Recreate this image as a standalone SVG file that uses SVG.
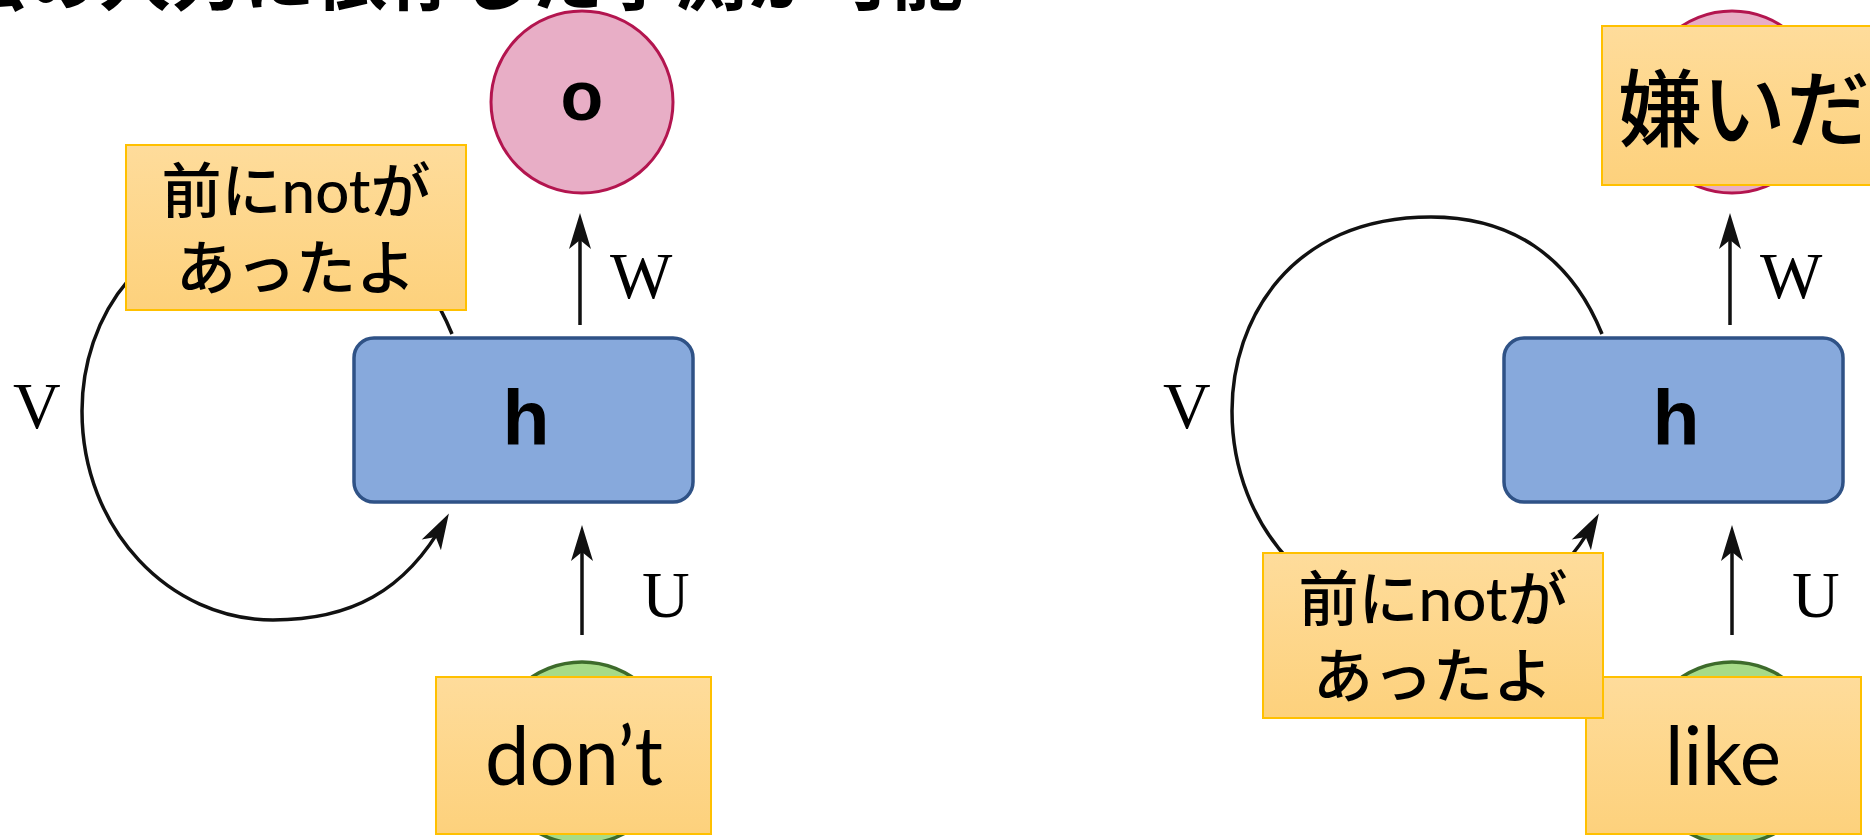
<svg xmlns="http://www.w3.org/2000/svg" width="1870" height="840" viewBox="0 0 1870 840">
  <defs>
    <style>
      .conn { fill: none; stroke: #111; stroke-width: 3.5; }
      .out { fill: #e8aec6; stroke: #b3154f; stroke-width: 3; }
      .hid { fill: #87a9dc; stroke: #2f5286; stroke-width: 3.5; }
      .inp { fill: #a7db88; stroke: #3d6b2b; stroke-width: 3.5; }
      .note { fill: url(#noteFill); stroke: #ffc000; stroke-width: 2; }
      .sym { font-family: "Liberation Sans", Arial, sans-serif; font-weight: bold; fill: #000; text-anchor: middle; }
      .lbl { font-family: "Liberation Serif", "Times New Roman", serif; font-size: 66px; fill: #000; }
      .word { font-family: Lato, "Noto Sans CJK JP", sans-serif; font-size: 82px; fill: #000; text-anchor: middle; }
      .jp { font-family: Lato, "Noto Sans CJK JP", sans-serif; font-size: 60px; font-weight: 500; fill: #000; text-anchor: middle; }
      .big { font-family: "Noto Sans CJK JP", sans-serif; font-size: 84px; font-weight: 500; fill: #000; text-anchor: start; }
      .title { font-family: "Noto Sans CJK JP", sans-serif; font-size: 72px; font-weight: bold; fill: #000; text-anchor: end; }
    </style>
    <linearGradient id="noteFill" x1="0" y1="0" x2="0" y2="1">
      <stop offset="0" stop-color="#fedc9b"/>
      <stop offset="1" stop-color="#fdd17c"/>
    </linearGradient>
    <marker id="head" markerUnits="userSpaceOnUse" viewBox="-40 -15 50 30" markerWidth="50" markerHeight="30" refX="0" refY="0" orient="auto" overflow="visible">
      <path d="M8,0 L-28,-11 L-19,0 L-28,11 Z" fill="#111"/>
    </marker>
  </defs>

  <!-- heading line, mostly above the top edge -->
  <g id="title">
    <text class="title" x="963" y="4">過去の入力に依存した予測が可能</text>
  </g>

  <!-- arrows and recurrent loops of both unrolled cells -->
  <g id="connectors">
    <path class="conn" d="M580 325 L580 221" marker-end="url(#head)"/>
    <path class="conn" d="M582 635 L582 533" marker-end="url(#head)"/>
    <path class="conn" d="M452 334 C420 255 360 217 281 217 C140 217 82 320 82 411 C82 530 170 620 273 620 C350 620 405 592 445 520.5" marker-end="url(#head)"/>
    <path class="conn" d="M1730 325 L1730 221" marker-end="url(#head)"/>
    <path class="conn" d="M1732 635 L1732 533" marker-end="url(#head)"/>
    <path class="conn" d="M1602 334 C1570 255 1510 217 1431 217 C1290 217 1232 320 1232 411 C1232 530 1320 620 1423 620 C1500 620 1555 592 1595 520.5" marker-end="url(#head)"/>
    <text class="lbl" x="610" y="298">W</text>
    <text class="lbl" x="642" y="617">U</text>
    <text class="lbl" x="13" y="428">V</text>
    <text class="lbl" x="1760" y="298">W</text>
    <text class="lbl" x="1792" y="617">U</text>
    <text class="lbl" x="1163" y="428">V</text>
  </g>

  <!-- left cell -->
  <g id="output-left">
    <circle class="out" cx="582" cy="102" r="91"/>
    <text class="sym" x="582" y="120" font-size="70">o</text>
  </g>
  <g id="hidden-left">
    <rect class="hid" x="354" y="338" width="339" height="164" rx="20"/>
    <text class="sym" x="526" y="445" font-size="77">h</text>
  </g>
  <g id="input-left">
    <circle class="inp" cx="582" cy="753" r="91"/>
  </g>
  <g id="note-memory-left">
    <rect class="note" x="126" y="145" width="340" height="165"/>
    <text class="jp" x="296" y="213">前にnotが</text>
    <text class="jp" x="296" y="290">あったよ</text>
  </g>
  <g id="note-word-left">
    <rect class="note" x="436" y="677" width="275" height="157"/>
    <text class="word" x="574" y="785" textLength="178" lengthAdjust="spacingAndGlyphs">don’t</text>
  </g>

  <!-- right cell -->
  <g id="output-right">
    <circle class="out" cx="1732" cy="102" r="91"/>
  </g>
  <g id="hidden-right">
    <rect class="hid" x="1504" y="338" width="339" height="164" rx="20"/>
    <text class="sym" x="1676" y="445" font-size="77">h</text>
  </g>
  <g id="input-right">
    <circle class="inp" cx="1732" cy="753" r="91"/>
  </g>
  <g id="note-word-right">
    <rect class="note" x="1586" y="677" width="275" height="157"/>
    <text class="word" x="1723" y="785" textLength="116" lengthAdjust="spacingAndGlyphs">like</text>
  </g>
  <g id="note-memory-right">
    <rect class="note" x="1263" y="553" width="340" height="165"/>
    <text class="jp" x="1433" y="621">前にnotが</text>
    <text class="jp" x="1433" y="698">あったよ</text>
  </g>
  <g id="note-result-right">
    <rect class="note" x="1602" y="26" width="290" height="159"/>
    <text class="big" x="1618" y="140">嫌いだ</text>
  </g>
</svg>
